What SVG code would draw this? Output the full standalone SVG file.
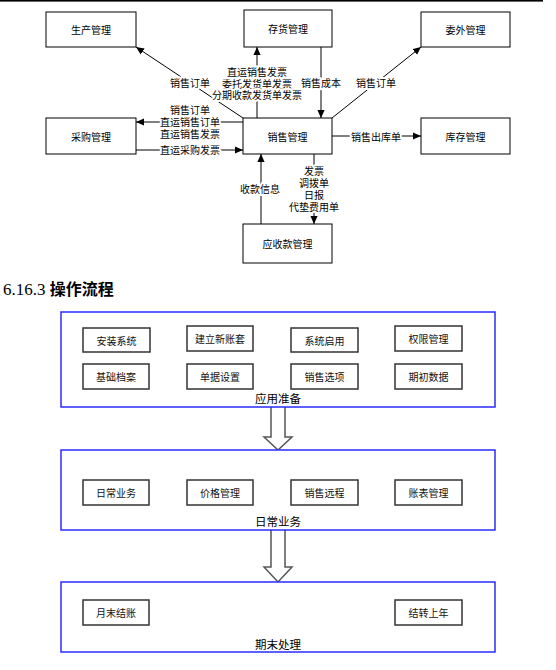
<svg xmlns="http://www.w3.org/2000/svg" width="556" height="670" viewBox="0 0 556 670">
<style>
text{font-family:"Noto Sans CJK SC","Liberation Sans",sans-serif;fill:#000}
.node rect{fill:#fff;stroke:#000;stroke-width:1}
.nt{font-size:10px;text-anchor:middle;dominant-baseline:central}
.lbl{font-size:10px;text-anchor:middle;dominant-baseline:central;stroke:#fff;stroke-width:4;stroke-linejoin:round;paint-order:stroke}
.conn line{stroke:#000;stroke-width:1;fill:none}
.sec{fill:#fff;stroke:#2b2bff;stroke-width:1.5}
.ib{fill:#fff;stroke:#333;stroke-width:1.5}
.it{font-size:10px;text-anchor:middle;dominant-baseline:central;fill:#111}
.st{font-size:11.5px;text-anchor:middle}
.harrow{fill:#fff;stroke:#555;stroke-width:1.5;stroke-linejoin:miter}
</style>
<defs>
<marker id="ah" viewBox="0 0 10 10" refX="10" refY="5" markerWidth="8" markerHeight="8" markerUnits="userSpaceOnUse" orient="auto">
<path d="M0,0.5 L10,5 L0,9.5 Z" fill="#000"/>
</marker>
</defs>
<rect x="0" y="0" width="543" height="1.6" fill="#000"/>

<g id="connectors" class="conn">
<line x1="243" y1="118" x2="136" y2="47" marker-end="url(#ah)"/>
<line x1="257" y1="118" x2="257" y2="47" marker-end="url(#ah)"/>
<line x1="321" y1="47" x2="321" y2="118" marker-end="url(#ah)"/>
<line x1="332" y1="118" x2="421" y2="47" marker-end="url(#ah)"/>
<line x1="243" y1="122" x2="136" y2="122" marker-end="url(#ah)"/>
<line x1="136" y1="150" x2="243" y2="150" marker-end="url(#ah)"/>
<line x1="332" y1="136" x2="421" y2="136" marker-end="url(#ah)"/>
<line x1="261" y1="224" x2="261" y2="154" marker-end="url(#ah)"/>
<line x1="314" y1="154" x2="314" y2="224" marker-end="url(#ah)"/>
<text class="lbl" x="190" y="82">销售订单</text>
<text class="lbl" x="257" y="71"><tspan x="257" y="71">直运销售发票</tspan><tspan x="257" y="82.5">委托发货单发票</tspan><tspan x="257" y="94">分期收款发货单发票</tspan></text>
<text class="lbl" x="321" y="82">销售成本</text>
<text class="lbl" x="376" y="82">销售订单</text>
<text class="lbl" x="190" y="109"><tspan x="190" y="109">销售订单</tspan><tspan x="190" y="121">直运销售订单</tspan><tspan x="190" y="133">直运销售发票</tspan></text>
<text class="lbl" x="190" y="149">直运采购发票</text>
<text class="lbl" x="376" y="136">销售出库单</text>
<text class="lbl" x="260" y="188">收款信息</text>
<text class="lbl" x="314" y="170"><tspan x="314" y="170">发票</tspan><tspan x="314" y="182">调拨单</tspan><tspan x="314" y="194">日报</tspan><tspan x="314" y="206">代垫费用单</tspan></text>
</g>

<g id="n-shengchan" class="node"><rect x="46" y="12" width="90" height="35"/><text class="nt" x="91" y="29.5">生产管理</text></g>
<g id="n-cunhuo" class="node"><rect x="244" y="10" width="88" height="37"/><text class="nt" x="288" y="28.5">存货管理</text></g>
<g id="n-weiwai" class="node"><rect x="421" y="12" width="89" height="35"/><text class="nt" x="465.5" y="29.5">委外管理</text></g>
<g id="n-caigou" class="node"><rect x="46" y="118" width="90" height="36"/><text class="nt" x="91" y="136">采购管理</text></g>
<g id="n-xiaoshou" class="node"><rect x="243" y="118" width="89" height="36"/><text class="nt" x="287.5" y="136">销售管理</text></g>
<g id="n-kucun" class="node"><rect x="421" y="118" width="89" height="36"/><text class="nt" x="465.5" y="136">库存管理</text></g>
<g id="n-yingshou" class="node"><rect x="243" y="224" width="89" height="39"/><text class="nt" x="287.5" y="243.5">应收款管理</text></g>

<text x="3" y="295" font-size="16"><tspan font-family="Liberation Serif, serif" font-size="17">6.16.3 </tspan><tspan font-weight="bold">操作流程</tspan></text>

<g id="flow-arrows">
<path class="harrow" d="M271,407 L271,437 L264,437 L278,450 L292,437 L285,437 L285,407"/>
<path class="harrow" d="M271,530 L271,567 L264,567 L278,582 L292,567 L285,567 L285,530"/>
</g>

<g id="sec-prep">
<rect class="sec" x="61" y="312" width="434" height="95"/>
<text class="st" x="278" y="403">应用准备</text>
<g id="p1"><rect class="ib" x="83" y="328" width="67" height="24"/><text class="it" x="116.5" y="340">安装系统</text></g>
<g id="p2"><rect class="ib" x="187" y="326" width="66" height="25"/><text class="it" x="220" y="338.5">建立新账套</text></g>
<g id="p3"><rect class="ib" x="291" y="328" width="67" height="24"/><text class="it" x="324.5" y="340">系统启用</text></g>
<g id="p4"><rect class="ib" x="395" y="326" width="67" height="25"/><text class="it" x="428.5" y="338.5">权限管理</text></g>
<g id="p5"><rect class="ib" x="83" y="364" width="66" height="25"/><text class="it" x="116" y="376.5">基础档案</text></g>
<g id="p6"><rect class="ib" x="187" y="364" width="66" height="25"/><text class="it" x="220" y="376.5">单据设置</text></g>
<g id="p7"><rect class="ib" x="291" y="364" width="67" height="25"/><text class="it" x="324.5" y="376.5">销售选项</text></g>
<g id="p8"><rect class="ib" x="395" y="364" width="67" height="25"/><text class="it" x="428.5" y="376.5">期初数据</text></g>
</g>

<g id="sec-daily">
<rect class="sec" x="61" y="450" width="434" height="80"/>
<text class="st" x="278" y="526">日常业务</text>
<g id="d1"><rect class="ib" x="83" y="480" width="66" height="25"/><text class="it" x="116" y="492.5">日常业务</text></g>
<g id="d2"><rect class="ib" x="187" y="480" width="66" height="25"/><text class="it" x="220" y="492.5">价格管理</text></g>
<g id="d3"><rect class="ib" x="291" y="480" width="67" height="25"/><text class="it" x="324.5" y="492.5">销售远程</text></g>
<g id="d4"><rect class="ib" x="395" y="480" width="67" height="25"/><text class="it" x="428.5" y="492.5">账表管理</text></g>
</g>

<g id="sec-end">
<rect class="sec" x="61" y="582" width="434" height="70"/>
<text class="st" x="278" y="649">期末处理</text>
<g id="e1"><rect class="ib" x="83" y="600" width="66" height="25"/><text class="it" x="116" y="612.5">月末结账</text></g>
<g id="e2"><rect class="ib" x="395" y="600" width="67" height="25"/><text class="it" x="428.5" y="612.5">结转上年</text></g>
</g>
</svg>
